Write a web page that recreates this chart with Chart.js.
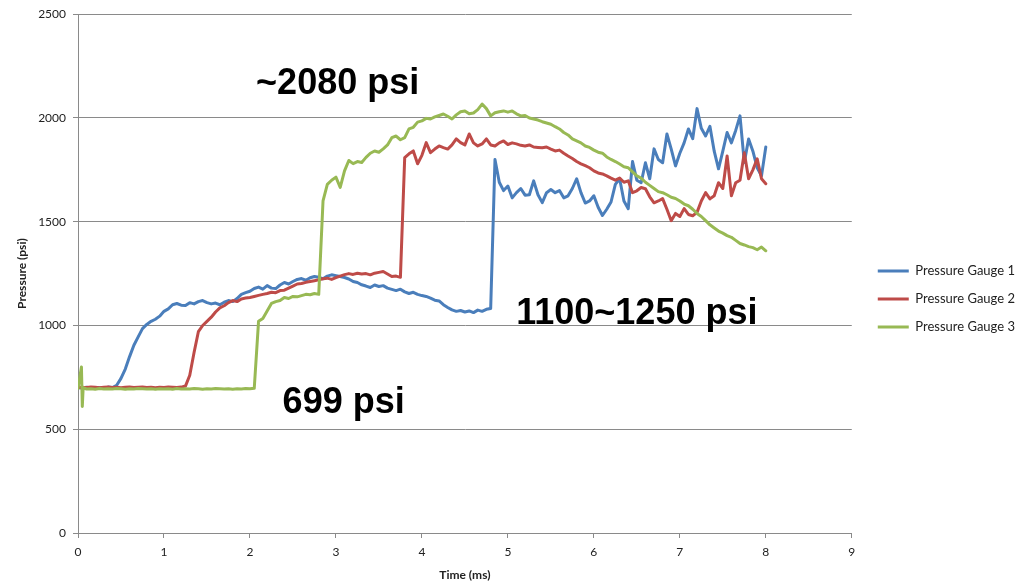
<!DOCTYPE html>
<html><head><meta charset="utf-8">
<script src="https://cdn.jsdelivr.net/npm/chart.js@4.4.1/dist/chart.umd.min.js"></script>
<style>html,body{margin:0;padding:0;background:#fff;}#wrap{width:1017px;height:584px;position:relative;}</style>
</head><body><div id="wrap"><canvas id="c" width="1017" height="584"></canvas></div>
<script>
// ---- data ----
const timeMs = [0,0.04,0.05,0.06,
0.1,0.15,0.2,0.25,0.3,0.35,0.4,0.45,0.5,0.55,0.6,0.65,0.7,0.75,0.8,0.85,0.9,0.95,
1,1.05,1.1,1.15,1.2,1.25,1.3,1.35,1.4,1.45,1.5,1.55,1.6,1.65,1.7,1.75,1.8,1.85,1.9,1.95,
2,2.05,2.1,2.15,2.2,2.25,2.3,2.35,2.4,2.45,2.5,2.55,2.6,2.65,2.7,2.75,2.8,2.85,2.9,2.95,
3,3.05,3.1,3.15,3.2,3.25,3.3,3.35,3.4,3.45,3.5,3.55,3.6,3.65,3.7,3.75,3.8,3.85,3.9,3.95,
4,4.05,4.1,4.15,4.2,4.25,4.3,4.35,4.4,4.45,4.5,4.55,4.6,4.65,4.7,4.75,4.8,4.85,4.9,4.95,
5,5.05,5.1,5.15,5.2,5.25,5.3,5.35,5.4,5.45,5.5,5.55,5.6,5.65,5.7,5.75,5.8,5.85,5.9,5.95,
6,6.05,6.1,6.15,6.2,6.25,6.3,6.35,6.4,6.45,6.5,6.55,6.6,6.65,6.7,6.75,6.8,6.85,6.9,6.95,
7,7.05,7.1,7.15,7.2,7.25,7.3,7.35,7.4,7.45,7.5,7.55,7.6,7.65,7.7,7.75,7.8,7.85,7.9,7.95,
8];

const gauge1 = [700,699,701,700,
702,699,701,700,698,703,701,712,745,790,850,905,945,985,1005,1020,1030,1045,
1068,1080,1100,1106,1098,1096,1110,1104,1115,1120,1110,1104,1108,1100,1112,1120,1115,1130,1150,1158,
1165,1178,1185,1175,1192,1180,1178,1195,1207,1200,1212,1222,1226,1218,1230,1236,1232,1225,1238,1244,
1240,1236,1231,1224,1212,1207,1196,1190,1183,1195,1188,1192,1180,1174,1168,1175,1162,1154,1160,1150,
1144,1140,1132,1122,1118,1100,1087,1075,1068,1072,1065,1070,1062,1074,1068,1078,1082,1800,1690,1650,
1672,1615,1640,1660,1628,1630,1697,1630,1592,1640,1655,1640,1650,1615,1625,1660,1707,1640,1590,1600,
1625,1570,1530,1560,1595,1680,1707,1600,1563,1790,1700,1688,1784,1707,1851,1800,1784,1923,1850,1769,
1830,1880,1947,1900,2045,1950,1913,1960,1840,1755,1840,1930,1880,1940,2010,1785,1899,1840,1760,1721,
1860];

const gauge2 = [702,701,703,702,
701,703,702,700,702,703,701,702,700,702,703,701,702,703,701,702,700,702,
701,703,702,701,703,708,760,870,970,1000,1020,1040,1065,1085,1095,1110,1120,1115,1128,1132,
1135,1140,1145,1150,1154,1160,1158,1168,1170,1180,1190,1200,1202,1208,1212,1216,1220,1225,1228,1222,
1231,1238,1245,1250,1246,1252,1248,1250,1244,1252,1256,1260,1248,1236,1238,1232,1809,1827,1841,1779,
1820,1881,1833,1850,1865,1857,1850,1870,1899,1881,1870,1923,1880,1865,1875,1899,1870,1865,1880,1889,
1872,1880,1875,1868,1865,1870,1860,1858,1856,1860,1850,1841,1845,1830,1817,1805,1790,1779,1770,1760,
1745,1735,1730,1721,1710,1700,1710,1690,1697,1640,1649,1665,1659,1620,1591,1600,1611,1560,1505,1540,
1525,1563,1535,1529,1545,1600,1640,1610,1625,1688,1660,1817,1625,1688,1700,1832,1707,1750,1803,1707,
1683];

const gauge3 = [696,800,610,700,
694,695,693,696,694,695,694,696,695,693,695,694,696,695,694,695,693,695,
694,695,693,696,694,695,694,696,695,693,695,694,696,695,694,695,693,695,694,696,
695,697,1020,1034,1070,1106,1115,1120,1135,1130,1140,1138,1144,1150,1148,1154,1150,1600,1680,1700,
1715,1665,1745,1795,1780,1790,1785,1810,1830,1841,1835,1851,1870,1905,1913,1895,1905,1947,1955,1980,
1986,1998,1995,2005,2012,2019,2008,1995,2015,2030,2034,2020,2024,2040,2067,2045,2010,2025,2030,2034,
2028,2034,2020,2010,2012,2000,1995,1990,1982,1976,1970,1958,1947,1930,1918,1899,1890,1880,1865,1858,
1845,1835,1830,1812,1800,1790,1778,1765,1760,1740,1721,1710,1690,1675,1660,1645,1640,1630,1618,1612,
1600,1585,1577,1560,1540,1525,1505,1485,1470,1455,1445,1433,1425,1410,1395,1388,1380,1375,1365,1378,
1360];

const seriesNames = ['Pressure Gauge 1','Pressure Gauge 2','Pressure Gauge 3'];
const seriesColors = ['#4A7EBB','#BE4B48','#98B954'];
const xAxisTitle = 'Time (ms)';
const yAxisTitle = 'Pressure (psi)';
const xRange = [0, 9];
const yRange = [0, 2500];
const xStep = 1;
const yStep = 500;
// annotation text anchored in data units (time, pressure at text baseline)
const noteTexts = ['~2080 psi', '1100~1250 psi', '699 psi'];
const noteTimes = [3.02, 6.50, 3.09];
const notePress = [2115, 1007, 578];

// ---- chart ----
const tickFont = {family: 'Lato, "Open Sans", sans-serif', size: 12};
const legendFont = {family: 'Lato, "Open Sans", sans-serif', size: 13};
const titleFont = {family: 'Lato, "Open Sans", sans-serif', size: 12, weight: 'bold'};
const gridGray = '#8A8A8A';

function pts(vals){ return vals.map((v,i)=>({x: timeMs[i], y: v})); }
const seriesVals = [gauge1, gauge2, gauge3];

const datasets = seriesVals.map((vals, i) => ({
  label: seriesNames[i],
  data: pts(vals),
  borderColor: seriesColors[i],
  backgroundColor: seriesColors[i],
  borderWidth: 3,
  pointRadius: 0,
  tension: 0,
  order: 2 - i,
  borderJoinStyle: 'round',
  borderCapStyle: 'round'
}));

const notesPlugin = {
  id: 'notes',
  afterDatasetsDraw(chart){
    const {ctx, scales} = chart;
    ctx.save();
    ctx.font = 'bold 36px "Liberation Sans", Arial, sans-serif';
    ctx.fillStyle = '#000';
    ctx.textAlign = 'center';
    ctx.textBaseline = 'alphabetic';
    noteTexts.forEach((t, i) => {
      ctx.fillText(t, scales.x.getPixelForValue(noteTimes[i]), scales.y.getPixelForValue(notePress[i]));
    });
    ctx.restore();
  }
};

const legendShift = {
  id: 'legendShift',
  afterLayout(chart){
    const lg = chart.legend;
    if (lg) { const dx = (chart.chartArea.right + 26) - (lg.left + 15); lg.left += dx; lg.right += dx; }
  }
};

new Chart(document.getElementById('c'), {
  type: 'line',
  data: { datasets },
  plugins: [notesPlugin, legendShift],
  options: {
    responsive: false,
    animation: false,
    devicePixelRatio: 1,
    layout: { padding: { top: 14, left: 0, right: 3, bottom: 0 } },
    plugins: {
      tooltip: { enabled: false },
      legend: {
        position: 'right',
        labels: {
          usePointStyle: true,
          pointStyle: 'line',
          pointStyleWidth: 31,
          padding: 15,
          color: '#222',
          font: legendFont,
          boxHeight: 12,
          sort: (a, b) => a.datasetIndex - b.datasetIndex
        }
      }
    },
    scales: {
      x: {
        type: 'linear',
        min: xRange[0], max: xRange[1],
        afterFit(s){ s.height = 51; },
        ticks: { stepSize: xStep, color: '#222', font: tickFont, padding: 7, maxRotation: 0, callback: v => String(v) },
        grid: { drawOnChartArea: false, drawTicks: true, tickLength: 5, color: gridGray },
        border: { display: true, color: gridGray, width: 1 },
        title: { display: true, text: xAxisTitle, color: '#222', font: titleFont, padding: { top: 0, bottom: 2 } }
      },
      y: {
        min: yRange[0], max: yRange[1],
        afterFit(s){ s.width = 78; },
        ticks: { stepSize: yStep, color: '#222', font: tickFont, padding: 7, callback: v => String(v) },
        grid: { color: gridGray, tickLength: 5, drawTicks: true },
        border: { display: true, color: gridGray, width: 1 },
        title: { display: true, text: yAxisTitle, color: '#222', font: titleFont, padding: { top: 15, bottom: 0 } }
      }
    }
  }
});
</script>
</body></html>
